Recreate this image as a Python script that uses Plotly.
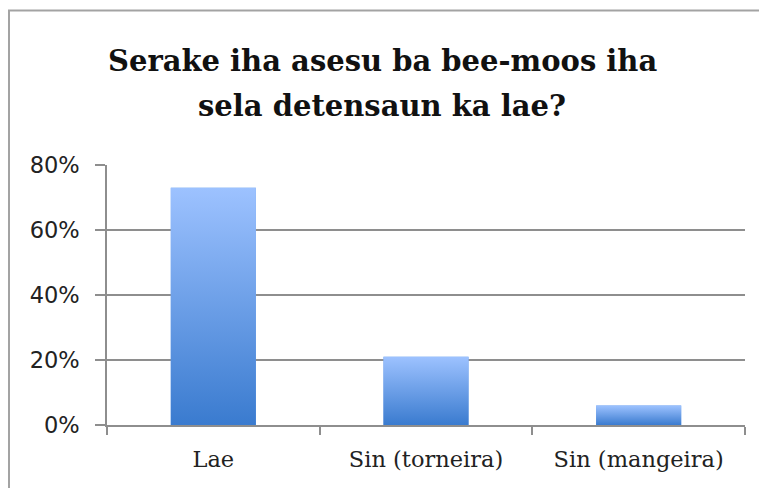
import plotly.graph_objects as go

categories = ["Lae", "Sin (torneira)", "Sin (mangeira)"]
values = [0.73, 0.21, 0.06]
y_ticks = [0, 0.2, 0.4, 0.6, 0.8]
y_tick_labels = ["0%", "20%", "40%", "60%", "80%"]
title_lines = ["Serake iha asesu ba bee-moos iha", "sela detensaun ka lae?"]

# the page body adds an 8px offset; figure coordinates = screen - 8
OFF = 8
W, H = 767 - OFF, 488 - OFF
ML, MR, MT, MB = 107 - OFF, 767 - 745, 165 - OFF, 488 - 425
PW, PH = W - ML - MR, H - MT - MB

DARK = "#3A7BCF"
LIGHT = "#9DC2FF"
GRID = "#8E8E8E"
BAR_W = 0.4

fig = go.Figure()
fig.add_trace(go.Bar(x=categories, y=values, width=BAR_W, marker=dict(color="#6A9EE8", line=dict(width=0)),
                     showlegend=False, hoverinfo="skip"))

for i, v in enumerate(values):
    fig.add_trace(go.Scatter(
        x=[i - BAR_W / 2, i + BAR_W / 2, i + BAR_W / 2, i - BAR_W / 2, i - BAR_W / 2],
        y=[0, 0, v, v, 0],
        xaxis="x2", mode="lines", line=dict(width=0), fill="toself",
        fillgradient=dict(type="vertical", colorscale=[[0, DARK], [1, LIGHT]]),
        showlegend=False, hoverinfo="skip"))

def px_to_paper_x(px):
    return (px - OFF - ML) / PW

def py_to_paper_y(py):
    return (H - MB - (py - OFF)) / PH

fig.add_shape(type="rect", xref="paper", yref="paper",
              x0=px_to_paper_x(9), x1=px_to_paper_x(820),
              y0=py_to_paper_y(540), y1=py_to_paper_y(10.5),
              line=dict(color="#A3A3A3", width=2), fillcolor="rgba(0,0,0,0)", layer="below")

baselines = [73, 118]
for line, base in zip(title_lines, baselines):
    fig.add_annotation(text=line, xref="paper", yref="paper",
                       x=px_to_paper_x(382), y=py_to_paper_y(base + 7),
                       xanchor="center", yanchor="bottom", showarrow=False,
                       font=dict(family="DejaVu Serif", size=29, color="#111111", weight="bold"))

fig.update_layout(
    width=W, height=H,
    margin=dict(l=ML, r=MR, t=MT, b=MB),
    paper_bgcolor="white", plot_bgcolor="white",
    xaxis=dict(type="category", range=[-0.5, 2.5], showgrid=False, showline=True,
               linecolor=GRID, linewidth=1.5, ticks="outside", tickson="boundaries",
               ticklen=8, tickcolor=GRID, tickwidth=1.5, ticklabelstandoff=13,
               tickfont=dict(family="DejaVu Serif", size=22.5, color="#222222")),
    xaxis2=dict(overlaying="x", range=[-0.5, 2.5], visible=False),
    yaxis=dict(range=[0, 0.8], tickvals=y_ticks, ticktext=y_tick_labels, showgrid=True,
               gridcolor=GRID, gridwidth=1.5, showline=True, linecolor=GRID, linewidth=1.5,
               ticks="outside", ticklen=10, tickcolor=GRID, tickwidth=1.5, zeroline=False,
               ticklabelstandoff=11,
               tickfont=dict(family="DejaVu Sans", size=22.5, color="#222222")),
)

fig.write_html("out.html")
